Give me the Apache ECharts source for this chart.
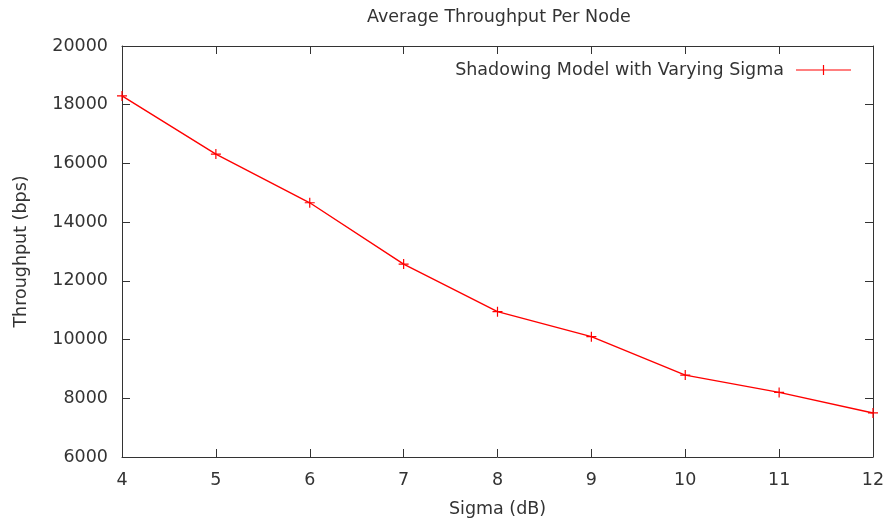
<!DOCTYPE html>
<html>
<head>
<meta charset="utf-8">
<script src="https://cdn.jsdelivr.net/npm/echarts@6/dist/echarts.min.js"></script>
<style>
  html, body { margin: 0; padding: 0; background: #fff; }
  #chart { width: 888px; height: 524px; }
</style>
</head>
<body>
<div id="chart"></div>
<script>
// sigma values (dB) and measured throughput (bps)
var sigma = [4, 5, 6, 7, 8, 9, 10, 11, 12];
var throughput = [18300, 16320, 14660, 12570, 10950, 10100, 8790, 8200, 7500];
var seriesName = 'Shadowing Model with Varying Sigma';

var font = 'DejaVu Sans';
var fs = 17.5;
var axisColor = '#333';
var textColor = '#333';
var plus = 'path://M4.4,0h1.2v10h-1.2zM0,4.4h10v1.2h-10z';

var chart = echarts.init(document.getElementById('chart'));

var points = sigma.map(function (s, i) {
    return [s, throughput[i]];
});

var option = {
    animation: false,
    textStyle: { fontFamily: font },
    title: {
        text: 'Average Throughput Per Node',
        left: 362,
        top: 3,
        textStyle: { fontFamily: font, fontSize: fs, fontWeight: 'normal', color: textColor }
    },
    legend: {
        data: [seriesName],
        right: 32,
        top: 56,
        align: 'right',
        itemWidth: 55,
        itemHeight: 10,
        icon: 'path://M0,4.4h55v1.2h-55zM26.9,0h1.2v10h-1.2z',
        textStyle: { fontFamily: font, fontSize: fs, color: textColor, padding: [0, 7, 0, 0] }
    },
    grid: { left: 122, right: 15, top: 46, bottom: 67 },
    xAxis: [{
        type: 'value',
        min: 4,
        max: 12,
        interval: 1,
        name: 'Sigma (dB)',
        nameLocation: 'middle',
        nameGap: 43,
        nameTextStyle: { fontFamily: font, fontSize: fs, color: textColor },
        axisLine: { lineStyle: { color: axisColor, width: 1 } },
        axisTick: { inside: true, length: 8, lineStyle: { color: axisColor } },
        axisLabel: { margin: 14, fontFamily: font, fontSize: fs, color: textColor },
        splitLine: { show: false }
    }, {
        type: 'value',
        position: 'top',
        min: 4,
        max: 12,
        interval: 1,
        axisLine: { show: true, lineStyle: { color: axisColor, width: 1 } },
        axisTick: { show: true, inside: true, length: 8, lineStyle: { color: axisColor } },
        axisLabel: { show: false },
        splitLine: { show: false }
    }],
    yAxis: [{
        type: 'value',
        min: 6000,
        max: 20000,
        interval: 2000,
        name: 'Throughput (bps)',
        nameLocation: 'middle',
        nameGap: 92,
        nameTextStyle: { fontFamily: font, fontSize: fs, color: textColor },
        axisLine: { show: true, lineStyle: { color: axisColor, width: 1 } },
        axisTick: { show: true, inside: true, length: 8, lineStyle: { color: axisColor } },
        axisLabel: {
            margin: 14, fontFamily: font, fontSize: fs, color: textColor,
            formatter: function (v) { return String(v); }
        },
        splitLine: { show: false }
    }, {
        type: 'value',
        position: 'right',
        min: 6000,
        max: 20000,
        interval: 2000,
        axisLine: { show: true, lineStyle: { color: axisColor, width: 1 } },
        axisTick: { show: true, inside: true, length: 8, lineStyle: { color: axisColor } },
        axisLabel: { show: false },
        splitLine: { show: false }
    }],
    series: [{
        name: seriesName,
        type: 'line',
        data: points,
        clip: false,
        symbol: plus,
        symbolSize: 10,
        showAllSymbol: true,
        color: '#ff0000',
        itemStyle: { color: '#ff0000' },
        lineStyle: { color: '#ff0000', width: 1.4 }
    }]
};

chart.setOption(option);
</script>
</body>
</html>
